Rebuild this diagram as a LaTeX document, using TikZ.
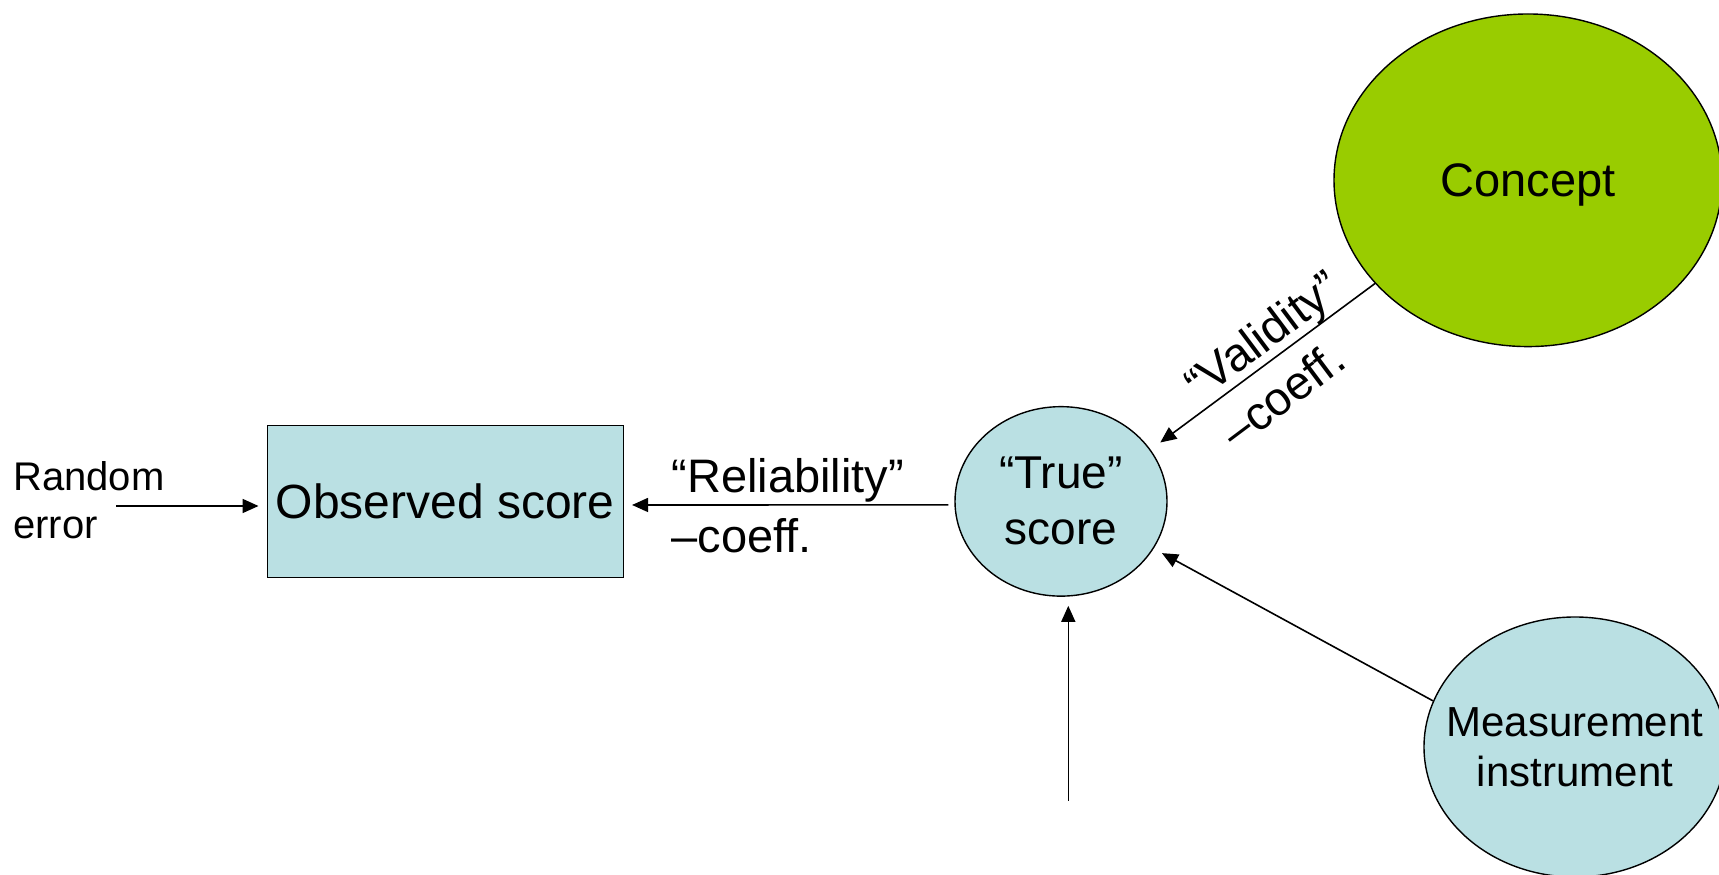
\documentclass[tikz,border=0pt]{standalone}
\usepackage{fontspec}
\setmainfont{Liberation Sans}
\usetikzlibrary{shapes.geometric, arrows.meta}
\definecolor{paleblue}{RGB}{186,224,227}
\definecolor{leafgreen}{RGB}{153,204,0}

\begin{document}
\begin{tikzpicture}[x=1pt, y=1pt,
  conn/.style={line width=1.6pt, -{Triangle[length=16pt,width=14pt]}},
  scorebox/.style={draw, line width=1.5pt, fill=paleblue, rectangle,
    minimum width=356pt, minimum height=151.6pt, inner sep=0pt},
  blob/.style={draw, line width=1.4pt, ellipse, inner sep=0pt},
  coefftext/.style={font=\fontsize{47}{60}\selectfont, align=left,
    inner sep=0pt, anchor=north west},
]
\useasboundingbox (0,0) rectangle (1719,875);
\clip (0,0) rectangle (1719,875);

% main shapes
\node[scorebox, font=\fontsize{48}{58}\selectfont] (obs) at (445.3,373.5) {Observed score};
\node[blob, fill=paleblue, minimum width=212pt, minimum height=189.5pt,
      font=\fontsize{46}{56}\selectfont, align=center] (true) at (1061,373.6) {“True”\\score};
\node[blob, fill=leafgreen, minimum width=388pt, minimum height=332.6pt,
      font=\fontsize{47}{56}\selectfont, text depth=0pt] (concept) at (1528,694.7) {Concept};
\node[blob, fill=paleblue, minimum width=302pt, minimum height=260pt,
      label={[font=\fontsize{42}{50}\selectfont, align=center, inner sep=0pt]center:Measurement\\instrument}]
      (meas) at (1575,128) {};

% free labels
\node[font=\fontsize{40}{48}\selectfont, align=left, inner sep=0pt, anchor=north west]
      (rnd) at (13,413.5) {Random\\error};
\node[coefftext] (rel) at (671.5,416.5) {“Reliability”\\–coeff.};
\node[coefftext, rotate=36.8] (val) at (1179.6,500.3) {“Validity”\\–coeff.};

% loose arrow tails
\coordinate (rndsrc) at (116,369);
\coordinate (basesrc) at (1068.3,74);

% connectors
\draw[conn, shorten >=8pt] (rndsrc) -- (rndsrc -| obs.west);
\draw[conn, shorten <=6pt, shorten >=8pt] ([yshift=-3.5pt]true.west) -- ([yshift=-3.5pt]obs.east);
\draw[conn, shorten >=12pt] (concept.214.1) -- (true.30.2);
\draw[conn, shorten >=9.4pt] (meas.162.4) -- (true.333.2);
\draw[conn, shorten >=9pt] (basesrc) -- (basesrc |- true.south);
\end{tikzpicture}
\end{document}
